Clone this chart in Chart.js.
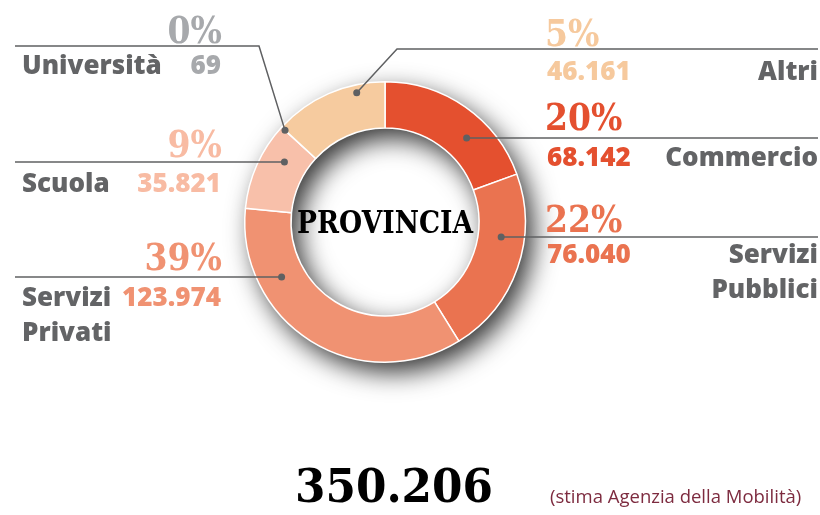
<!DOCTYPE html>
<html>
<head>
<meta charset="utf-8">
<script src="https://cdn.jsdelivr.net/npm/chart.js@4"></script>
<style>
  html, body { margin: 0; padding: 0; background: #fff; }
  #wrap { width: 820px; height: 515px; position: relative; }
</style>
</head>
<body>
<div id="wrap"><canvas id="provincia" width="820" height="515"></canvas></div>
<script>
// dati
var categorie = ["Commercio", "Servizi Pubblici", "Servizi Privati", "Scuola", "Università", "Altri"];
var addetti = [68142, 76040, 123974, 35821, 69, 46161];
var percentuali = ["20%", "22%", "39%", "9%", "0%", "5%"];
var totale = 350206;
var titolo = "PROVINCIA";
var fonte = "(stima Agenzia della Mobilità)";

var coloriFette = ["#E4502F", "#EA7350", "#F09272", "#F8C0AA", "#A7A9AC", "#F6CB9F"];
var coloriTesto = ["#E4502F", "#EA7350", "#F09272", "#F8BBA3", "#A7A9AC", "#F6C99D"];

// posizione delle etichette (y della linea, baseline percentuale, baseline testo)
var guide = [
    { side: "right", y: 138, py: 130, ty: 166 },
    { side: "right", y: 237, py: 232, ty: 263 },
    { side: "left",  y: 277, py: 270, ty: 306 },
    { side: "left",  y: 162, py: 157, ty: 192 },
    { side: "left",  y: 46,  py: 43,  ty: 74, elbowX: 259, at: 0.5, r: 0.9 },
    { side: "right", y: 49,  py: 46,  ty: 80, elbowX: 397, at: 0.74, r: 0.83 }
];

function formatta(n) {
    return String(n).replace(/\B(?=(\d{3})+(?!\d))/g, ".");
}

// testo serif stretto (le cifre grandi sono piu' strette del DejaVu)
function testoStretto(ctx, t, x, y, k) {
    var w = ctx.measureText(t).width;
    ctx.fillText(t, x, y, w * k);
}

var ombra = {
    id: "ombra",
    beforeDatasetsDraw: function(chart) {
        var arc = chart.getDatasetMeta(0).data[0];
        var ctx = chart.ctx;
        ctx.save();
        ctx.shadowColor = "rgba(0,0,0,0.8)";
        ctx.shadowBlur = 26;
        ctx.shadowOffsetX = 8;
        ctx.shadowOffsetY = 10;
        ctx.beginPath();
        ctx.arc(arc.x, arc.y, arc.outerRadius, 0, Math.PI * 2);
        ctx.arc(arc.x, arc.y, arc.innerRadius, 0, Math.PI * 2, true);
        ctx.fillStyle = "#fff";
        ctx.fill("evenodd");
        ctx.restore();
    }
};

var etichette = {
    id: "etichette",
    afterDraw: function(chart) {
        var ctx = chart.ctx;
        var meta = chart.getDatasetMeta(0);
        var cx = meta.data[0].x, cy = meta.data[0].y;

        ctx.save();
        meta.data.forEach(function(arc, i) {
            var g = guide[i];
            var px, py;
            if (g.elbowX !== undefined) {
                var a = arc.startAngle + g.at * (arc.endAngle - arc.startAngle);
                var rr = arc.innerRadius + g.r * (arc.outerRadius - arc.innerRadius);
                px = cx + Math.cos(a) * rr;
                py = cy + Math.sin(a) * rr;
            } else {
                var mid = (arc.innerRadius + arc.outerRadius) / 2;
                var dy = g.y - cy;
                var dx = Math.sqrt(Math.max(mid * mid - dy * dy, 0));
                px = g.side == "right" ? cx + dx : cx - dx;
                py = g.y;
            }

            // linea guida
            ctx.strokeStyle = "#5F6062";
            ctx.lineWidth = 1.5;
            ctx.beginPath();
            ctx.moveTo(px, py);
            if (g.elbowX !== undefined) ctx.lineTo(g.elbowX, g.y);
            ctx.lineTo(g.side == "right" ? 818 : 15, g.y);
            ctx.stroke();
            ctx.fillStyle = "#5F6062";
            ctx.beginPath();
            ctx.arc(px, py, 3.5, 0, Math.PI * 2);
            ctx.fill();

            // percentuale
            ctx.textBaseline = "alphabetic";
            ctx.fillStyle = coloriTesto[i];
            ctx.font = "bold 38px 'DejaVu Serif'";
            ctx.textAlign = g.side == "right" ? "left" : "right";
            testoStretto(ctx, percentuali[i], g.side == "right" ? 545 : 222, g.py, 0.87);

            // valore
            ctx.font = "800 26px 'Open Sans'";
            ctx.fillText(formatta(addetti[i]), g.side == "right" ? 547 : 221, g.ty);

            // nome categoria
            var righe = categorie[i].split(" ");
            ctx.fillStyle = "#636466";
            ctx.textAlign = g.side == "right" ? "right" : "left";
            righe.forEach(function(t, k) {
                ctx.fillText(t, g.side == "right" ? 818 : 22, g.ty + k * 35);
            });
        });

        // titolo centrale
        ctx.fillStyle = "#000";
        ctx.textAlign = "center";
        ctx.font = "bold 31px 'DejaVu Serif'";
        ctx.fillText(titolo, cx, 233, 176);

        // totale e fonte
        ctx.textAlign = "left";
        ctx.font = "bold 46px 'DejaVu Serif'";
        ctx.fillText(formatta(totale), 295, 502, 198);
        ctx.fillStyle = "#7D2B3F";
        ctx.font = "18.5px 'Open Sans'";
        ctx.fillText(fonte, 550, 503, 262);
        ctx.restore();
    }
};

var ctx = document.getElementById("provincia").getContext("2d");

var grafico = new Chart(ctx, {
    type: "doughnut",
    data: {
        labels: categorie,
        datasets: [
            {
                data: addetti,
                backgroundColor: coloriFette,
                borderColor: "#fff",
                borderWidth: 1.5,
                hoverOffset: 0
            }
        ]
    },
    options: {
        responsive: false,
        animation: false,
        cutout: "67%",
        layout: { padding: { left: 244, right: 294, top: 81, bottom: 152 } },
        plugins: {
            legend: { display: false },
            tooltip: { enabled: false }
        }
    },
    plugins: [ombra, etichette]
});
</script>
</body>
</html>
